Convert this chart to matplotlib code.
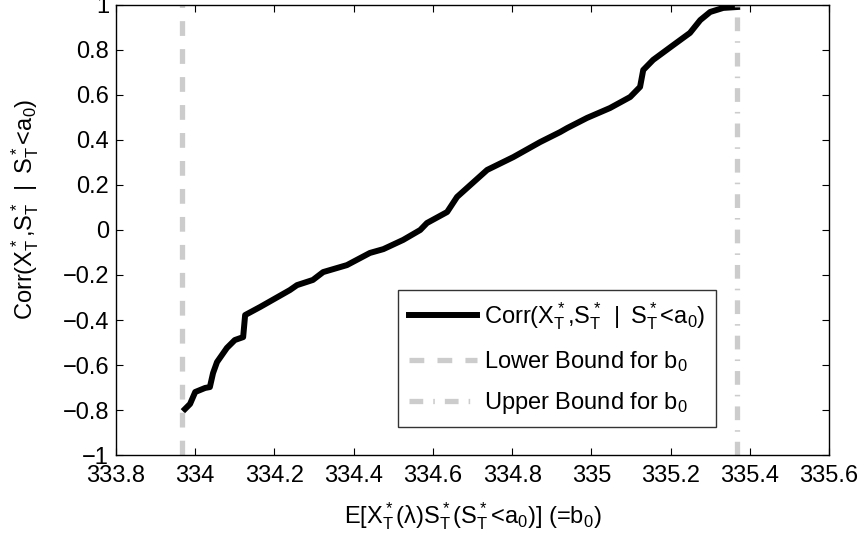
import matplotlib
matplotlib.use("Agg")
import matplotlib.pyplot as plt

plt.rcParams['font.family'] = ['Liberation Sans', 'DejaVu Sans']
plt.rcParams['mathtext.default'] = 'regular'

# expected payoff b0 vs conditional correlation
b0 = [333.974, 333.987, 334.000, 334.025, 334.037, 334.045, 334.055, 334.080,
      334.100, 334.121, 334.126, 334.164, 334.239, 334.257, 334.297, 334.323,
      334.383, 334.441, 334.475, 334.525, 334.568, 334.585, 334.636, 334.661,
      334.737, 334.803, 334.871, 334.921, 334.939, 334.989, 335.047, 335.098,
      335.123, 335.131, 335.156, 335.207, 335.249, 335.275, 335.300, 335.333,
      335.368]
corr = [-0.796, -0.773, -0.720, -0.702, -0.698, -0.636, -0.587, -0.524,
        -0.489, -0.476, -0.378, -0.342, -0.267, -0.245, -0.222, -0.187,
        -0.156, -0.102, -0.085, -0.044, 0.000, 0.031, 0.080, 0.147,
        0.267, 0.324, 0.391, 0.435, 0.453, 0.498, 0.542, 0.591,
        0.636, 0.711, 0.756, 0.822, 0.876, 0.933, 0.969, 0.987,
        0.991]

lower_b0 = 333.967
upper_b0 = 335.368

xticks = [333.8, 334.0, 334.2, 334.4, 334.6, 334.8, 335.0, 335.2, 335.4, 335.6]
xtick_labels = ['333.8', '334', '334.2', '334.4', '334.6', '334.8', '335',
                '335.2', '335.4', '335.6']
yticks = [-1, -0.8, -0.6, -0.4, -0.2, 0, 0.2, 0.4, 0.6, 0.8, 1]
ytick_labels = ['\u22121', '\u22120.8', '\u22120.6', '\u22120.4', '\u22120.2', '0',
                '0.2', '0.4', '0.6', '0.8', '1']

fs = 17
corr_label = r'Corr(X$^*_T$,S$^*_T$ $\,|\,$ S$^*_T$<a$_0$)'

fig = plt.figure(figsize=(8.65, 5.42), dpi=100)
ax = fig.add_axes([0.1341, 0.1605, 0.8243, 0.8303])

ax.plot(b0, corr, color='black', lw=4.3, solid_joinstyle='round',
        label=corr_label)
ax.axvline(lower_b0, color='#cccccc', lw=3.8, dashes=(2.8, 2.5),
           label='Lower Bound for b$_0$')
ax.axvline(upper_b0, color='#cccccc', lw=3.8, dashes=(2.6, 1.9, 0.3, 1.9),
           label='Upper Bound for b$_0$')

ax.set_xlim(333.8, 335.6)
ax.set_ylim(-1, 1)
ax.set_xticks(xticks)
ax.set_xticklabels(xtick_labels)
ax.set_yticks(yticks)
ax.set_yticklabels(ytick_labels)
ax.tick_params(direction='in', top=True, right=True, labelsize=fs,
               length=5, width=0.8, pad=5)
ax.tick_params(axis='x', pad=7)
for s in ax.spines.values():
    s.set_linewidth(1.0)

ax.set_xlabel(r'E[X$^*_T$($\lambda$)S$^*_T$(S$^*_T$<a$_0$)] (=b$_0$)',
              fontsize=fs, labelpad=10)
ax.set_ylabel(corr_label, fontsize=fs)
ax.yaxis.set_label_coords(-0.105, 0.545)

leg = ax.legend(loc='upper left', bbox_to_anchor=(0.3955, 0.3667), fontsize=fs,
                frameon=True, fancybox=False, handlelength=2.9, handletextpad=0.3,
                borderpad=0.45, labelspacing=0.7, borderaxespad=0)
leg.get_frame().set_edgecolor('black')
leg.get_frame().set_linewidth(1.0)

fig.savefig('out.png', dpi=100)
